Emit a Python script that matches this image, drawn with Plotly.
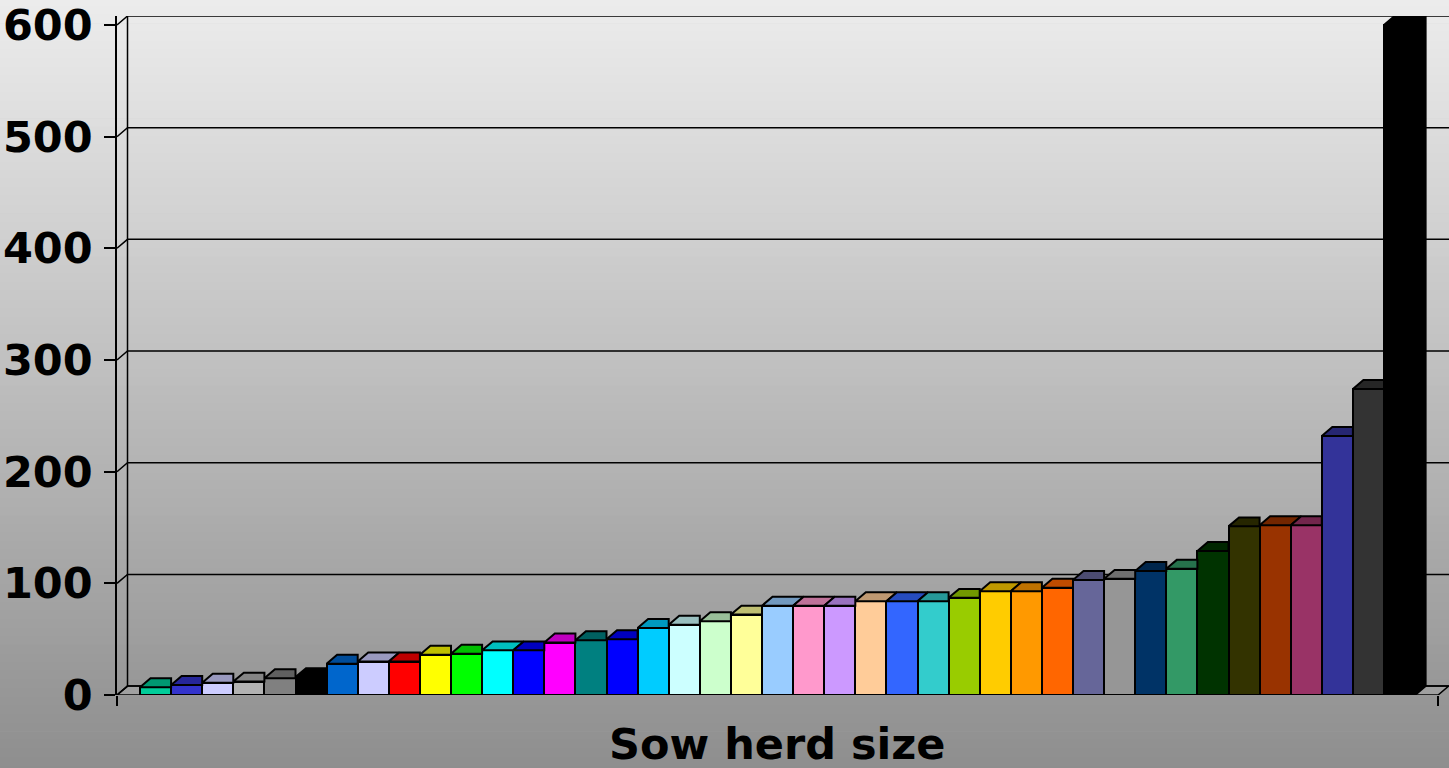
import plotly.graph_objects as go

# herd index (x) and sow counts, sorted ascending
herd_ids = list(range(1, 42))
sow_counts = [7, 9, 11, 12, 15, 16, 28, 30, 30, 36, 37, 40, 40, 47, 49, 50,
              60, 63, 66, 72, 80, 80, 80, 84, 84, 84, 87, 93, 93, 96,
              103, 104, 111, 113, 129, 151, 152, 152, 232, 274, 600]
bar_colors = ["#00CC99", "#3333CC", "#CCCCFF", "#B2B2B2", "#808080", "#000000",
              "#0066CC", "#CCCCFF", "#FF0000", "#FFFF00", "#00FF00", "#00FFFF",
              "#0000FF", "#FF00FF", "#008080", "#0000FF", "#00CCFF", "#CCFFFF",
              "#CCFFCC", "#FFFF99", "#99CCFF", "#FF99CC", "#CC99FF", "#FFCC99",
              "#3366FF", "#33CCCC", "#99CC00", "#FFCC00", "#FF9900", "#FF6600",
              "#666699", "#969696", "#003366", "#339966", "#003300", "#333300",
              "#993300", "#993366", "#333399", "#333333", "#000000"]
y_ticks = [0, 100, 200, 300, 400, 500, 600]

# fake 3D: depth offset in data units
DX, DY = 0.338, 8.0
X0, XF, XEND = -0.24, 42.24, 42.59
Y_TOP = 608
EDGE = 2


def shade(hex_color, k=0.75):
    r, g, b = (int(hex_color[i:i + 2], 16) for i in (1, 3, 5))
    return "rgb(%d,%d,%d)" % (r * k, g * k, b * k)


fig = go.Figure()

fig.add_trace(go.Bar(
    x=herd_ids, y=sow_counts,
    marker=dict(color=bar_colors, line=dict(color="black", width=EDGE)),
    width=1.0,
    hovertemplate="%{y}<extra></extra>",
))

# top faces of the bars
for i, (c, h) in enumerate(zip(herd_ids, sow_counts)):
    nxt = sow_counts[i + 1] if i + 1 < len(sow_counts) else None
    if nxt is not None and nxt > h:
        xs = [c - 0.5, c + 0.5, c + 0.5, c - 0.5 + DX, c - 0.5]
    else:
        xs = [c - 0.5, c + 0.5, c + 0.5 + DX, c - 0.5 + DX, c - 0.5]
    ys = [h, h, h + DY, h + DY, h]
    fig.add_trace(go.Scatter(
        x=xs, y=ys, mode="lines", fill="toself",
        fillcolor=shade(bar_colors[i]), line=dict(color="black", width=EDGE),
        hoverinfo="skip", showlegend=False,
    ))

# right side of the last bar
c, h = herd_ids[-1], sow_counts[-1]
fig.add_trace(go.Scatter(
    x=[c + 0.5, c + 0.5, c + 0.5 + DX, c + 0.5 + DX, c + 0.5],
    y=[0, h, h + DY, DY, 0], mode="lines", fill="toself",
    fillcolor=shade(bar_colors[-1]), line=dict(color="black", width=EDGE),
    hoverinfo="skip", showlegend=False,
))

shapes = []
# background gradient
n_bands = 90
y_lo, y_hi = -73 / 683 - 0.01, 1 + 12 / 683 + 0.01
top_c, bot_c = 237, 141
for k in range(n_bands):
    t = (k + 0.5) / n_bands
    g = round(top_c + (bot_c - top_c) * t)
    shapes.append(dict(
        type="rect", xref="paper", yref="paper", layer="below",
        x0=-117 / 1332 - 0.01, x1=1.01,
        y0=y_hi - (y_hi - y_lo) * (k + 1) / n_bands - 0.001,
        y1=y_hi - (y_hi - y_lo) * k / n_bands,
        fillcolor="rgb(%d,%d,%d)" % (g, g, g), line=dict(width=0),
    ))
# floor
shapes.append(dict(
    type="path", xref="x", yref="y", layer="below",
    path="M %f,0 L %f,0 L %f,%f L %f,%f Z" % (X0, XF, XF + DX, DY, X0 + DX, DY),
    fillcolor="#A0A0A0", line=dict(color="black", width=1.5),
))
# back wall gridlines and side wall
for v in y_ticks:
    shapes.append(dict(
        type="path", xref="x", yref="y", layer="below",
        path="M %f,%f L %f,%f L %f,%f" % (X0, v, X0 + DX, v + DY, XEND + 1, v + DY),
        line=dict(color="black", width=1.5),
    ))
shapes.append(dict(
    type="line", xref="x", yref="y", layer="below",
    x0=X0 + DX, x1=X0 + DX, y0=DY, y1=600 + DY,
    line=dict(color="black", width=1.5),
))

fig.update_layout(
    width=1449, height=768,
    margin=dict(l=117, r=0, t=12, b=73),
    paper_bgcolor="#BEBEBE",
    plot_bgcolor="rgba(0,0,0,0)",
    showlegend=False,
    bargap=0,
    shapes=shapes,
    font=dict(family="DejaVu Sans", color="black"),
    xaxis=dict(
        range=[X0, XEND], showgrid=False, zeroline=False, showline=False,
        tickvals=[X0 + 0.01, XF], ticktext=["", ""],
        ticks="outside", ticklen=10, tickwidth=1.5, tickcolor="black",
    ),
    yaxis=dict(
        range=[0, Y_TOP], tickvals=y_ticks, showgrid=False, zeroline=False,
        showline=True, linecolor="black", linewidth=1.5,
        ticks="outside", ticklen=11, tickwidth=1.5, tickcolor="black",
        ticklabelstandoff=3, ticklabeloverflow="allow",
        tickfont=dict(family="DejaVu Sans", size=43, weight="bold", color="black"),
    ),
    annotations=[dict(
        text="Sow herd size", xref="paper", yref="paper",
        x=(777 - 117) / 1332, y=-(717 - 695) / 683,
        xanchor="center", yanchor="top", showarrow=False,
        font=dict(family="DejaVu Sans", size=43, weight="bold", color="black"),
    )],
)

fig.write_html("out.html", config={"displayModeBar": False},
               post_script="document.body.style.margin='0';")
